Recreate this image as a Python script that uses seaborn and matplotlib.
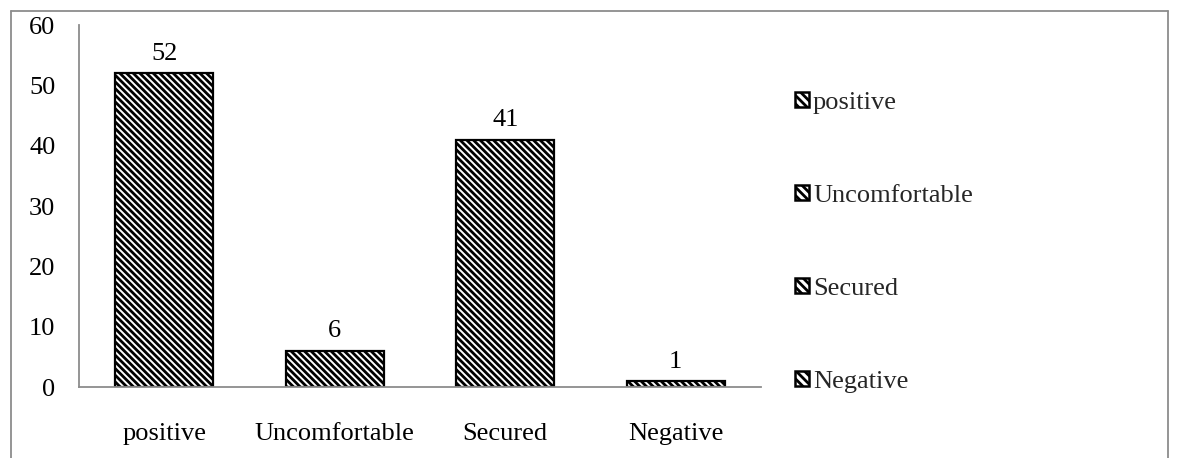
import matplotlib
matplotlib.use("Agg")
import matplotlib.pyplot as plt
from matplotlib.patches import Patch
from matplotlib.lines import Line2D
import seaborn as sns
import pandas as pd

categories = ["positive", "Uncomfortable", "Secured", "Negative"]
values = [52, 6, 41, 1]
y_ticks = [0, 10, 20, 30, 40, 50, 60]

sns.set_theme(style="white")
plt.rcParams["font.family"] = ["Liberation Serif", "DejaVu Serif"]
plt.rcParams["hatch.linewidth"] = 2.0
plt.rcParams["hatch.color"] = "black"

FS = 19
W, H = 1178, 458
fig = plt.figure(figsize=(W / 100, H / 100), dpi=100)
ax = fig.add_axes([79 / W, 1 - 387 / H, (761 - 79) / W, (387 - 25) / H])

df = pd.DataFrame({"category": categories, "value": values})
sns.barplot(data=df, x="category", y="value", ax=ax, color="white",
            edgecolor="black", linewidth=1.6, width=0.575, hatch="\\\\\\\\\\")
for bar in ax.patches:
    bar.set_facecolor("white")

for i, v in enumerate(values):
    ax.annotate(str(v), (i, v), xytext=(0, 6), textcoords="offset points",
                ha="center", va="bottom", fontsize=FS, color="black")

ax.set_ylim(0, 60)
ax.set_yticks(y_ticks)
ax.set_xlim(-0.5, len(categories) - 0.5)
ax.set_xlabel("")
ax.set_ylabel("")
ax.tick_params(axis="both", length=0, labelsize=FS, colors="black")
ax.tick_params(axis="y", pad=17)
ax.tick_params(axis="x", pad=26)
for side in ("top", "right"):
    ax.spines[side].set_visible(False)
for side in ("left", "bottom"):
    ax.spines[side].set_color("#8c8c8c")
    ax.spines[side].set_linewidth(1.3)

# legend in a single column down the right side
handles = [Patch(facecolor="white", edgecolor="black", hatch="\\\\\\\\", linewidth=1.8)
           for _ in categories]
fig.legend(handles, categories, loc="upper left", bbox_to_anchor=(784 / W, 1 - 81 / H),
           frameon=False, fontsize=FS, handlelength=0.55, handleheight=0.55,
           handletextpad=0.15, labelspacing=2.68, borderaxespad=0)

# outer chart frame
frame_color = "#8c8c8c"
x0, x1, y0 = 10.5 / W, 1167.5 / W, 1 - 10.5 / H
fig.add_artist(Line2D([x0, x1], [y0, y0], transform=fig.transFigure, color=frame_color, lw=1.3))
fig.add_artist(Line2D([x0, x0], [y0, 0], transform=fig.transFigure, color=frame_color, lw=1.3))
fig.add_artist(Line2D([x1, x1], [y0, 0], transform=fig.transFigure, color=frame_color, lw=1.3))

fig.savefig("out.png", dpi=100, facecolor="white")
